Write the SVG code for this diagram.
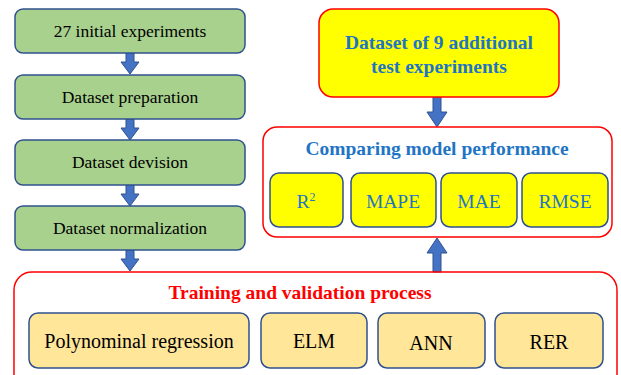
<svg xmlns="http://www.w3.org/2000/svg" width="621" height="375" viewBox="0 0 621 375">
<style>
.g{fill:#A9D18E;stroke:#2F528F;stroke-width:1.5}
.y{fill:#FFFF00;stroke:#2F528F;stroke-width:1.5}
.o{fill:#FFE699;stroke:#2F528F;stroke-width:1.5}
.r{fill:none;stroke:#FF0000;stroke-width:1.5}
.ry{fill:#FFFF00;stroke:#FF0000;stroke-width:1.5}
.arr{fill:#4472C4;stroke:#2F528F;stroke-width:1}
text{font-family:"Liberation Serif","Times New Roman","DejaVu Serif",serif;text-anchor:middle}
.t1{font-size:17.5px;fill:#000}
.tb{font-size:19.5px;font-weight:bold;fill:#1F75C4}
.tm{font-size:19.5px;fill:#1F75C4}
.tr{font-size:19.5px;font-weight:bold;fill:#FF0000}
.tk{font-size:20px;fill:#000}
</style>
<g id="connectors">
<path class="arr" d="M126,53 H134 V62 H139 L130,74 L121,62 H126 Z"/>
<path class="arr" d="M126,119 H134 V128 H139 L130,140 L121,128 H126 Z"/>
<path class="arr" d="M126,185 H134 V194 H139 L130,206 L121,194 H126 Z"/>
<path class="arr" d="M126,250 H134 V259 H139 L130,271 L121,259 H126 Z"/>
<path class="arr" d="M433,97 H441 V112 H447 L437,127 L427,112 H433 Z"/>
<path class="arr" d="M433,272 H441 V253 H447 L437,238 L427,253 H433 Z"/>
</g>
<g id="n1"><rect class="g" x="15" y="9" width="230" height="44" rx="8"/><text class="t1" x="130" y="37">27 initial experiments</text></g>
<g id="n2"><rect class="g" x="15" y="75" width="230" height="44" rx="8"/><text class="t1" x="130" y="103">Dataset preparation</text></g>
<g id="n3"><rect class="g" x="15" y="140" width="230" height="45" rx="8"/><text class="t1" x="130" y="168">Dataset devision</text></g>
<g id="n4"><rect class="g" x="15" y="206" width="230" height="44" rx="8"/><text class="t1" x="130" y="234">Dataset normalization</text></g>
<g id="test"><rect class="ry" x="319" y="9" width="240" height="88" rx="14"/><text class="tb" x="439" y="49">Dataset of 9 additional</text><text class="tb" x="439" y="73">test experiments</text></g>
<g id="compare"><rect class="r" x="263" y="127" width="349" height="110" rx="14"/><text class="tb" x="437" y="155">Comparing model performance</text></g>
<g id="r2"><rect class="y" x="270" y="173" width="73" height="54" rx="9"/><text class="tm" x="306" y="208">R<tspan font-size="12" dy="-7">2</tspan></text></g>
<g id="mape"><rect class="y" x="351" y="173" width="85" height="54" rx="9"/><text class="tm" x="393" y="208">MAPE</text></g>
<g id="mae"><rect class="y" x="441" y="173" width="76" height="54" rx="9"/><text class="tm" x="479" y="208">MAE</text></g>
<g id="rmse"><rect class="y" x="522" y="173" width="86" height="54" rx="9"/><text class="tm" x="565" y="208">RMSE</text></g>
<g id="training"><rect class="r" x="14" y="272" width="603" height="120" rx="18"/><text class="tr" x="300" y="299">Training and validation process</text></g>
<g id="poly"><rect class="o" x="29" y="313" width="220" height="55" rx="9"/><text class="tk" x="139" y="348">Polynominal regression</text></g>
<g id="elm"><rect class="o" x="261" y="313" width="106" height="55" rx="9"/><text class="tk" x="314" y="348">ELM</text></g>
<g id="ann"><rect class="o" x="378" y="313" width="107" height="55" rx="9"/><text class="tk" x="431" y="350">ANN</text></g>
<g id="rer"><rect class="o" x="495" y="313" width="108" height="55" rx="9"/><text class="tk" x="549" y="349">RER</text></g>
</svg>
